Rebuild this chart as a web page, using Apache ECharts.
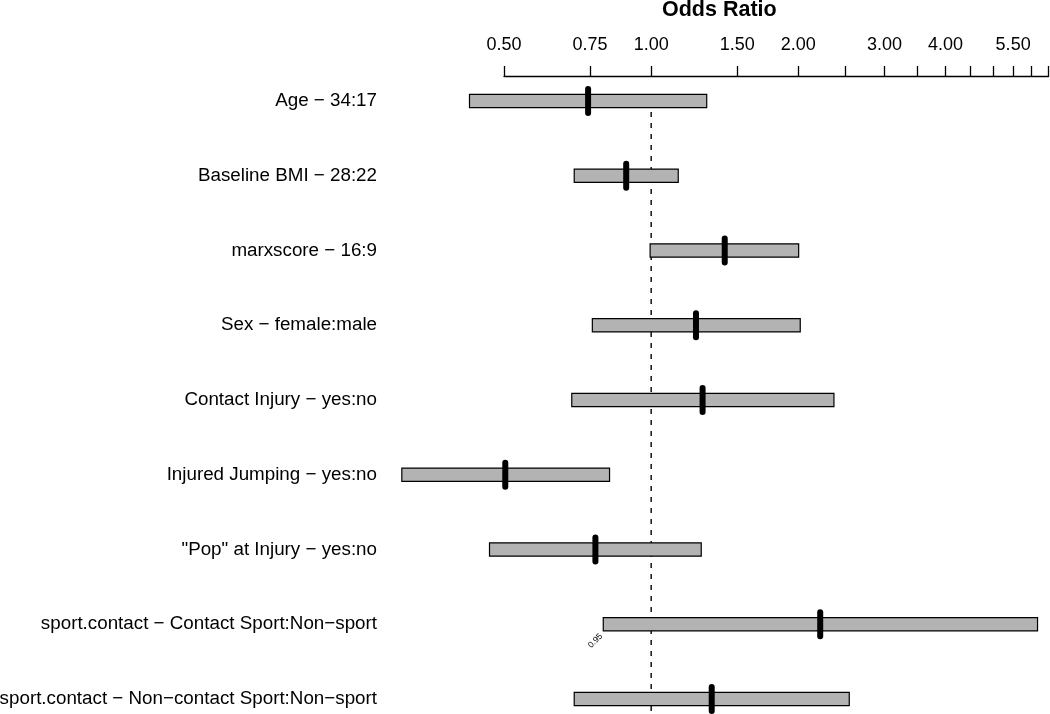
<!DOCTYPE html>
<html>
<head>
<meta charset="utf-8">
<script src="https://cdn.jsdelivr.net/npm/echarts@6.0.0/dist/echarts.min.js"></script>
<style>
html,body{margin:0;padding:0;background:#fff;}
#chart{width:1050px;height:714px;}
</style>
</head>
<body>
<div id="chart"></div>
<script>
const categories = [
  'Age \u2212 34:17',
  'Baseline BMI \u2212 28:22',
  'marxscore \u2212 16:9',
  'Sex \u2212 female:male',
  'Contact Injury \u2212 yes:no',
  'Injured Jumping \u2212 yes:no',
  '"Pop" at Injury \u2212 yes:no',
  'sport.contact \u2212 Contact Sport:Non\u2212sport',
  'sport.contact \u2212 Non\u2212contact Sport:Non\u2212sport'
];
const lower    = [0.425, 0.696, 0.995, 0.758, 0.688, 0.309, 0.467, 0.798, 0.696];
const estimate = [0.743, 0.889, 1.414, 1.235, 1.274, 0.503, 0.769, 2.217, 1.330];
const upper    = [1.299, 1.136, 2.003, 2.018, 2.365, 0.822, 1.266, 6.170, 2.542];
const tickValues  = [0.5, 0.75, 1, 1.5, 2, 2.5, 3, 3.5, 4, 4.5, 5, 5.5, 6, 6.5];
const labelValues = [0.5, 0.75, 1, 1.5, 2, 3, 4, 5.5];
const refValue = 1;
const confLevel = '0.95';
const confRow = 7;

const FONT = "'Liberation Sans', Arial, Helvetica, sans-serif";
const rowData = categories.map((c, i) => [i, Math.log(lower[i]), Math.log(estimate[i]), Math.log(upper[i])]);

const chart = echarts.init(document.getElementById('chart'), null, {renderer: 'canvas'});
chart.setOption({
  animation: false,
  backgroundColor: '#fff',
  title: {
    text: 'Odds Ratio',
    left: 662,
    top: -1,
    padding: 0,
    textStyle: {fontFamily: FONT, fontSize: 21.5, fontWeight: 'bold', color: '#000'}
  },
  grid: {left: 504, right: 1.4, top: 76, bottom: 0, containLabel: false, outerBoundsMode: 'none'},
  xAxis: {
    type: 'value',
    position: 'top',
    min: Math.log(tickValues[0]),
    max: Math.log(tickValues[tickValues.length - 1]),
    splitLine: {show: false},
    axisLine: {show: true, onZero: false, lineStyle: {color: '#000', width: 1.3}},
    axisTick: {show: true, length: 10, lineStyle: {color: '#000', width: 1.3},
      customValues: tickValues.map(Math.log)},
    axisLabel: {
      show: true, margin: 22, color: '#000', fontFamily: FONT, fontSize: 18,
      customValues: labelValues.map(Math.log),
      formatter: v => Math.exp(v).toFixed(2)
    }
  },
  yAxis: {
    type: 'value',
    inverse: true,
    min: -0.3344,
    max: 8.2007,
    splitLine: {show: false},
    axisLine: {show: false, onZero: false},
    axisTick: {show: false},
    axisLabel: {
      show: true, margin: 127, color: '#000', fontFamily: FONT, fontSize: 18.8,
      customValues: categories.map((c, i) => i),
      formatter: v => categories[Math.round(v)]
    }
  },
  series: [
    {
      type: 'line',
      data: [[Math.log(refValue), 0], [Math.log(refValue), 8.2007]],
      symbol: 'none',
      z: 1,
      lineStyle: {color: '#000', width: 1.4, type: [5, 6]},
      silent: true
    },
    {
      type: 'custom',
      clip: false,
      z: 2,
      data: rowData,
      encode: {x: [1, 2, 3], y: 0},
      renderItem: function (params, api) {
        const y = api.value(0);
        const pLo = api.coord([api.value(1), y]);
        const pEst = api.coord([api.value(2), y]);
        const pHi = api.coord([api.value(3), y]);
        const h = 6.7;
        const children = [
          {type: 'rect', shape: {x: pLo[0], y: pLo[1] - h, width: pHi[0] - pLo[0], height: 2 * h},
           style: {fill: '#B3B3B3', stroke: '#000', lineWidth: 1.2}},
          {type: 'line', shape: {x1: pEst[0], y1: pEst[1] - 12, x2: pEst[0], y2: pEst[1] + 12},
           style: {stroke: '#000', lineWidth: 6, lineCap: 'round'}}
        ];
        if (params.dataIndex === confRow) {
          children.push({type: 'text', x: pLo[0] - 2, y: pLo[1] + h + 4, rotation: Math.PI / 4,
            style: {text: confLevel, x: 0, y: 0, align: 'right', verticalAlign: 'middle',
              fontFamily: FONT, fontSize: 8.5, fill: '#000'}});
        }
        return {type: 'group', children: children};
      }
    }
  ]
});
</script>
</body>
</html>
